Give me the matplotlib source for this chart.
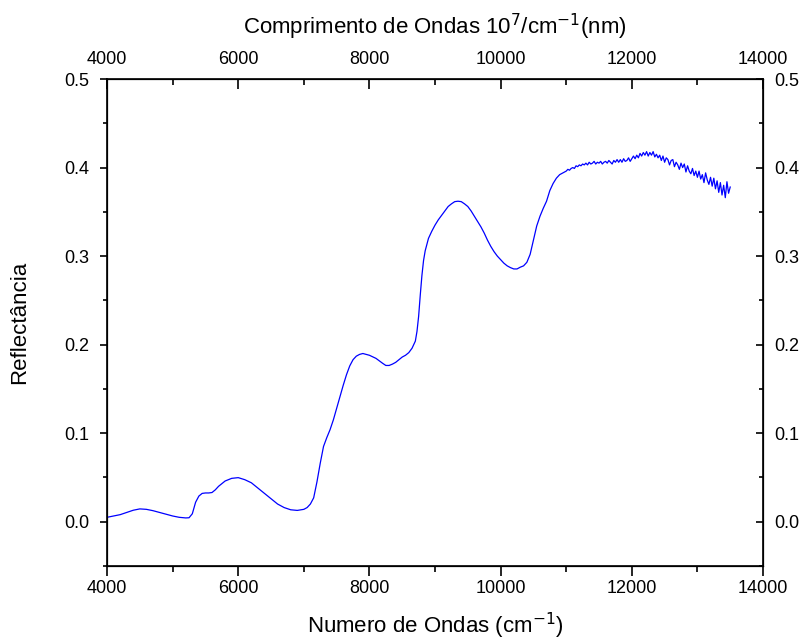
import numpy as np
import matplotlib
matplotlib.use('Agg')
import matplotlib.pyplot as plt
from matplotlib.ticker import MultipleLocator

plt.rcParams['font.family'] = ['Liberation Sans', 'DejaVu Sans']

# smooth part of the spectrum (wavenumber, reflectance)
wn_smooth = [4000, 4100, 4200, 4300, 4400, 4500, 4600, 4700, 4800, 4900,
             5000, 5100, 5200, 5250, 5300, 5350, 5400, 5450, 5500, 5550,
             5600, 5650, 5700, 5750, 5800, 5900, 6000, 6100, 6200, 6300,
             6400, 6500, 6600, 6700, 6800, 6900, 7000, 7050, 7100, 7150,
             7200, 7250, 7300, 7350, 7400, 7450, 7500, 7550, 7600, 7650,
             7700, 7750, 7800, 7850, 7900, 7950, 8000, 8100, 8200, 8250,
             8300, 8350, 8400, 8450, 8500, 8550, 8600, 8650, 8700, 8725,
             8750, 8775, 8800, 8825, 8850, 8900, 8950, 9000, 9050, 9100,
             9150, 9200, 9250, 9300, 9350, 9400, 9450, 9500, 9550, 9600,
             9650, 9700, 9750, 9800, 9850, 9900, 9950, 10000, 10050, 10100,
             10150, 10200, 10250, 10300, 10350, 10400, 10450, 10500, 10550, 10600,
             10650, 10700, 10750, 10800, 10850, 10900, 10950]
refl_smooth = [0.005, 0.0065, 0.008, 0.0105, 0.013, 0.0145, 0.014, 0.0125, 0.0105, 0.0085,
               0.0065, 0.005, 0.0043, 0.0045, 0.009, 0.022, 0.029, 0.032, 0.0325, 0.0325,
               0.033, 0.036, 0.040, 0.043, 0.046, 0.049, 0.0498, 0.0475, 0.044, 0.038,
               0.032, 0.026, 0.020, 0.016, 0.0135, 0.0128, 0.014, 0.016, 0.020, 0.027,
               0.045, 0.066, 0.085, 0.095, 0.104, 0.115, 0.128, 0.141, 0.154, 0.166,
               0.176, 0.183, 0.187, 0.189, 0.190, 0.189, 0.188, 0.1845, 0.179, 0.1765,
               0.1765, 0.178, 0.180, 0.183, 0.186, 0.188, 0.191, 0.196, 0.204, 0.215,
               0.232, 0.256, 0.278, 0.295, 0.306, 0.320, 0.328, 0.335, 0.341, 0.346,
               0.351, 0.356, 0.359, 0.3615, 0.362, 0.3615, 0.359, 0.356, 0.351, 0.345,
               0.339, 0.333, 0.326, 0.318, 0.311, 0.305, 0.300, 0.296, 0.292, 0.289,
               0.287, 0.2855, 0.2855, 0.2875, 0.289, 0.293, 0.302, 0.318, 0.334, 0.345,
               0.354, 0.362, 0.374, 0.382, 0.388, 0.392, 0.394]

# noisy part, 11000 to 13500 every 25 cm-1
wn_noisy = list(range(11000, 13501, 25))
refl_noisy = [0.396, 0.398, 0.397, 0.399, 0.400, 0.399, 0.402, 0.401, 0.403,
              0.402, 0.404, 0.403, 0.405, 0.403, 0.406, 0.404, 0.405,
              0.407, 0.404, 0.406, 0.405, 0.407, 0.404, 0.406, 0.407,
              0.405, 0.408, 0.406, 0.404, 0.408, 0.406, 0.409, 0.406,
              0.409, 0.406, 0.410, 0.407, 0.408, 0.411, 0.407, 0.410,
              0.413, 0.410, 0.414, 0.411, 0.416, 0.413, 0.417, 0.414,
              0.418, 0.413, 0.417, 0.414, 0.418, 0.412, 0.415, 0.411,
              0.414, 0.408, 0.413, 0.406, 0.411, 0.409, 0.403, 0.408,
              0.409, 0.401, 0.406, 0.403, 0.398, 0.405, 0.400, 0.404,
              0.395, 0.402, 0.396, 0.393, 0.399, 0.391, 0.396, 0.389,
              0.396, 0.387, 0.392, 0.383, 0.394, 0.386, 0.381, 0.389,
              0.379, 0.388, 0.376, 0.385, 0.372, 0.383, 0.369, 0.380,
              0.366, 0.384, 0.371, 0.378]

wn = np.array(wn_smooth + wn_noisy)
refl = np.array(refl_smooth + refl_noisy)

fig = plt.figure(figsize=(8.03, 6.44), dpi=100)
ax = fig.add_axes([0.1333, 0.1211, 0.8169, 0.7562])
ax.plot(wn, refl, color='#0000ff', linewidth=0.9)

ax.set_xlim(4000, 14000)
ax.set_ylim(-0.05, 0.5)
ax.xaxis.set_major_locator(MultipleLocator(2000))
ax.xaxis.set_minor_locator(MultipleLocator(1000))
ax.yaxis.set_major_locator(MultipleLocator(0.1))
ax.yaxis.set_minor_locator(MultipleLocator(0.05))
ax.yaxis.set_major_formatter(plt.FuncFormatter(lambda v, p: '%.1f' % v))
ax.tick_params(axis='x', which='major', direction='out', length=7, width=1.2,
               labelsize=13, pad=3)
ax.tick_params(axis='x', which='minor', direction='out', length=4, width=1.2)
ax.tick_params(axis='y', which='major', direction='out', length=5, width=1.2,
               labelsize=13, pad=8)
ax.tick_params(axis='y', which='minor', direction='out', length=3, width=1.2)
for s in ax.spines.values():
    s.set_linewidth(1.2)

ax.set_xlabel('Numero de Ondas (cm$^{-1}$)', fontsize=16, labelpad=10)
ax.set_ylabel('Reflectância', fontsize=16, labelpad=24)

# top axis
ax_top = ax.twiny()
ax_top.set_xlim(ax.get_xlim())
ax_top.xaxis.set_major_locator(MultipleLocator(2000))
ax_top.xaxis.set_minor_locator(MultipleLocator(1000))
ax_top.tick_params(axis='x', which='major', direction='in', length=7, width=1.2,
                   labelsize=13, pad=8)
ax_top.tick_params(axis='x', which='minor', direction='in', length=4, width=1.2)
ax_top.set_xlabel('Comprimento de Ondas 10$^{7}$/cm$^{-1}$(nm)', fontsize=16,
                  labelpad=12)

# right axis
ax_right = ax.twinx()
ax_right.set_ylim(ax.get_ylim())
ax_right.yaxis.set_major_locator(MultipleLocator(0.1))
ax_right.yaxis.set_minor_locator(MultipleLocator(0.05))
ax_right.yaxis.set_major_formatter(plt.FuncFormatter(lambda v, p: '%.1f' % v))
ax_right.tick_params(axis='y', which='major', direction='in', length=5, width=1.2,
                     labelsize=13, pad=8)
ax_right.tick_params(axis='y', which='minor', direction='in', length=3, width=1.2)

fig.savefig('out.png', dpi=100)
